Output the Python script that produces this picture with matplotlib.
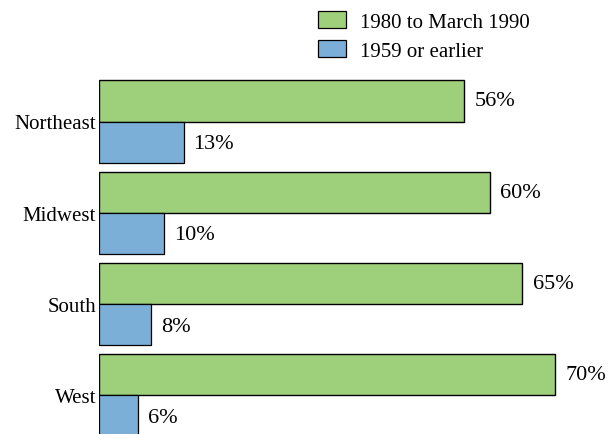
import matplotlib
matplotlib.use("Agg")
import matplotlib.pyplot as plt
import numpy as np
from matplotlib.patches import Patch

regions = ["Northeast", "Midwest", "South", "West"]
recent = [56, 60, 65, 70]   # 1980 to March 1990
old = [13, 10, 8, 6]        # 1959 or earlier
series_labels = ["1980 to March 1990", "1959 or earlier"]
green = "#9ECF7A"
blue = "#7BAFD7"

plt.rcParams['font.family'] = ['Liberation Serif', 'DejaVu Serif']

W, H = 614, 435
dpi = 100
fig = plt.figure(figsize=(W / dpi, H / dpi), dpi=dpi)
left_px = 99
ax = fig.add_axes([left_px / W, 0, 1 - left_px / W, 1])

scale = (555 - 99) / 70.0
ax.set_xlim(0, (W - left_px) / scale)
pitch = 91.3
y0 = 122.5
ax.set_ylim((H - y0) / pitch, (0 - y0) / pitch)

pos = np.arange(len(regions))
h = 0.45
ax.barh(pos - h / 2, recent, height=h, color=green, edgecolor="black", linewidth=1.0)
ax.barh(pos + h / 2, old, height=h, color=blue, edgecolor="black", linewidth=0.9)

for i, v in enumerate(recent):
    ax.annotate(f"{v}%", (v, pos[i] - h / 2), xytext=(7.5, 0), textcoords="offset points",
                va="center", ha="left", fontsize=16)
for i, v in enumerate(old):
    ax.annotate(f"{v}%", (v, pos[i] + h / 2), xytext=(7, -1), textcoords="offset points",
                va="center", ha="left", fontsize=16)

ax.set_yticks(pos)
ax.set_yticklabels(regions, fontsize=15)
ax.tick_params(axis="y", length=0, pad=2)
ax.set_xticks([])
for s in ax.spines.values():
    s.set_visible(False)

handles = [Patch(facecolor=green, edgecolor="black", linewidth=0.9),
           Patch(facecolor=blue, edgecolor="black", linewidth=0.9)]
fig.legend(handles, series_labels, loc="upper left",
           bbox_to_anchor=(318 / W, 1 - 12 / H), frameon=False, fontsize=15,
           borderpad=0, borderaxespad=0, handlelength=1.35, handleheight=0.9,
           handletextpad=0.65, labelspacing=0.38)

fig.savefig("out.png", dpi=dpi)
